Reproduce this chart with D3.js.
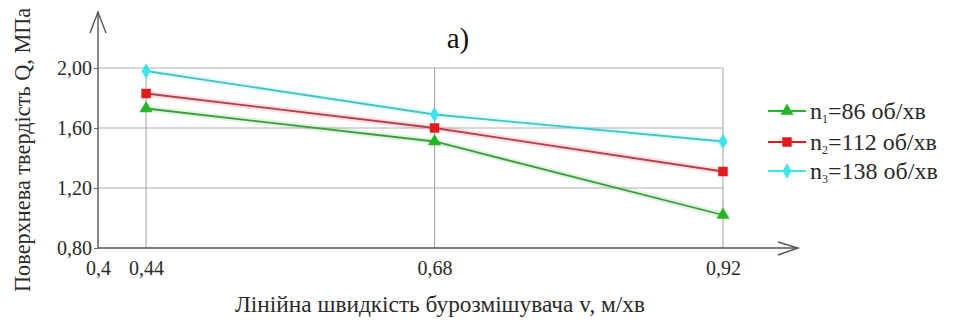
<!DOCTYPE html>
<html><head><meta charset="utf-8">
<script src="https://cdn.jsdelivr.net/npm/d3@7"></script>
<style>body{margin:0;background:#fff;overflow:hidden} svg{display:block}</style>
</head><body><svg id="c" width="955" height="334"></svg>
<script>
// ---- data ----
const speeds = [0.44, 0.68, 0.92];
const xTicks = [0.4, 0.44, 0.68, 0.92];
const xTickLabels = ["0,4", "0,44", "0,68", "0,92"];
const yTicks = [0.8, 1.2, 1.6, 2.0];
const yTickLabels = ["0,80", "1,20", "1,60", "2,00"];
const seriesN1 = [1.73, 1.51, 1.02];   // n1 = 86 об/хв
const seriesN2 = [1.83, 1.60, 1.31];   // n2 = 112 об/хв
const seriesN3 = [1.98, 1.69, 1.51];   // n3 = 138 об/хв
const legendBase = ["n", "n", "n"];
const legendSub = ["1", "2", "3"];
const legendRest = ["=86 об/хв", "=112 об/хв", "=138 об/хв"];
const titleText = "а)";
const xTitle = "Лінійна швидкість бурозмішувача v, м/хв";
const yTitle = "Поверхнева твердість Q, МПа";

// ---- styles ----
const FONT = '"Liberation Serif"';
const series = [
  {vals: seriesN1, line: "#3f9a3f", mark: "#22b822", sym: d3.symbolTriangle, size: 75},
  {vals: seriesN2, line: "#b0404e", mark: "#e41a1c", sym: d3.symbolSquare, size: 90},
  {vals: seriesN3, line: "#45c4c8", mark: "#3ce4ec", sym: d3.symbolDiamond, size: 70}
];

const svg = d3.select("#c");
const x = d3.scaleLinear().domain([0.4, 0.92]).range([98, 723]);
const y = d3.scaleLinear().domain([0.8, 2.0]).range([248, 68]);

// grid
const g = svg.append("g");
g.selectAll(".hg").data(yTicks.slice(1)).join("line")
  .attr("x1", x(0.4)).attr("x2", x(0.92))
  .attr("y1", d => y(d)).attr("y2", d => y(d))
  .attr("stroke", "#cacaca").attr("stroke-width", 1.6);
g.selectAll(".vg").data(speeds).join("line")
  .attr("x1", d => x(d)).attr("x2", d => x(d))
  .attr("y1", y(0.8)).attr("y2", y(2.0))
  .attr("stroke", "#a8a8a8").attr("stroke-width", 1.1);

// axes
const ax = svg.append("g").attr("transform", `translate(0,${y(0.8)})`)
  .call(d3.axisBottom(x).tickValues(xTicks).tickFormat((d, i) => xTickLabels[i]).tickSize(0).tickPadding(13));
ax.select(".domain").remove();
ax.selectAll("text").style("font-family", FONT).style("font-size", "20px").attr("fill", "#2a2a2a");

const ay = svg.append("g").attr("transform", `translate(${x(0.4)},0)`)
  .call(d3.axisLeft(y).tickValues(yTicks).tickFormat((d, i) => yTickLabels[i]).tickSize(4).tickPadding(2));
ay.select(".domain").remove();
ay.selectAll("line").attr("stroke", "#666");
ay.selectAll("text").style("font-family", FONT).style("font-size", "20px").attr("fill", "#2a2a2a");

const axc = "#555";
const x0 = x(0.4), y0 = y(0.8);
svg.append("line").attr("x1", x0).attr("x2", x0).attr("y1", y0).attr("y2", 12).attr("stroke", axc).attr("stroke-width", 1.4);
svg.append("path").attr("d", `M${x0 - 8},33 L${x0},12 L${x0 + 8},33`).attr("fill", "none").attr("stroke", axc).attr("stroke-width", 1.4);
svg.append("line").attr("x1", x0).attr("x2", 798).attr("y1", y0).attr("y2", y0).attr("stroke", axc).attr("stroke-width", 1.6);
svg.append("path").attr("d", `M778,242 L798,${y0} L778,255`).attr("fill", "none").attr("stroke", axc).attr("stroke-width", 1.4);

// series
const lineGen = d3.line().x((d, i) => x(speeds[i])).y(d => y(d));
series.forEach(s => {
  svg.append("path").attr("d", lineGen(s.vals)).attr("fill", "none")
    .attr("stroke", s.mark).attr("stroke-opacity", 0.15).attr("stroke-width", 6);
  svg.append("path").attr("d", lineGen(s.vals)).attr("fill", "none")
    .attr("stroke", s.line).attr("stroke-width", 1.8);
  svg.selectAll(null).data(s.vals).join("path")
    .attr("d", d3.symbol().type(s.sym).size(s.size))
    .attr("transform", (d, i) => `translate(${x(speeds[i])},${y(d)})`)
    .attr("fill", s.mark);
});

// legend
const legY = [111, 142, 171];
series.forEach((s, i) => {
  const lg = svg.append("g").attr("transform", `translate(0,${legY[i]})`);
  lg.append("line").attr("x1", 768).attr("x2", 806).attr("y1", 0).attr("y2", 0)
    .attr("stroke", s.mark).attr("stroke-width", 2);
  lg.append("path").attr("d", d3.symbol().type(s.sym).size(s.size)).attr("transform", "translate(787,0)").attr("fill", s.mark);
  const t = lg.append("text").attr("x", 810).attr("y", 8)
    .style("font-family", FONT).style("font-size", "24px").attr("fill", "#2a2a2a");
  t.append("tspan").text(legendBase[i]);
  t.append("tspan").style("font-size", "12px").attr("dy", 4).text(legendSub[i]);
  t.append("tspan").attr("dy", -4).text(legendRest[i]);
});

// title
svg.append("text").attr("x", 458).attr("y", 48).attr("text-anchor", "middle")
  .style("font-family", FONT).style("font-size", "29px").attr("fill", "#111").text(titleText);

// x title
const xt = svg.append("text").style("font-family", FONT).style("font-size", "23px").attr("fill", "#2a2a2a").text(xTitle);
const xw = xt.node().getComputedTextLength();
const xsx = 410 / xw;
xt.attr("text-anchor", "middle").attr("transform", `translate(440,312) scale(${xsx},1)`);

// y title
const yt = svg.append("text").style("font-family", FONT).style("font-size", "23px").attr("fill", "#2a2a2a").text(yTitle);
const probe = svg.append("text").style("font-family", FONT).style("font-size", "23px").text("Поверхнева твердість Q,");
const pw = probe.node().getComputedTextLength();
probe.remove();
const ysx = 233 / pw;
yt.attr("text-anchor", "start").attr("transform", `translate(30,292) rotate(-90) scale(${ysx},1)`);
</script>
</body></html>
